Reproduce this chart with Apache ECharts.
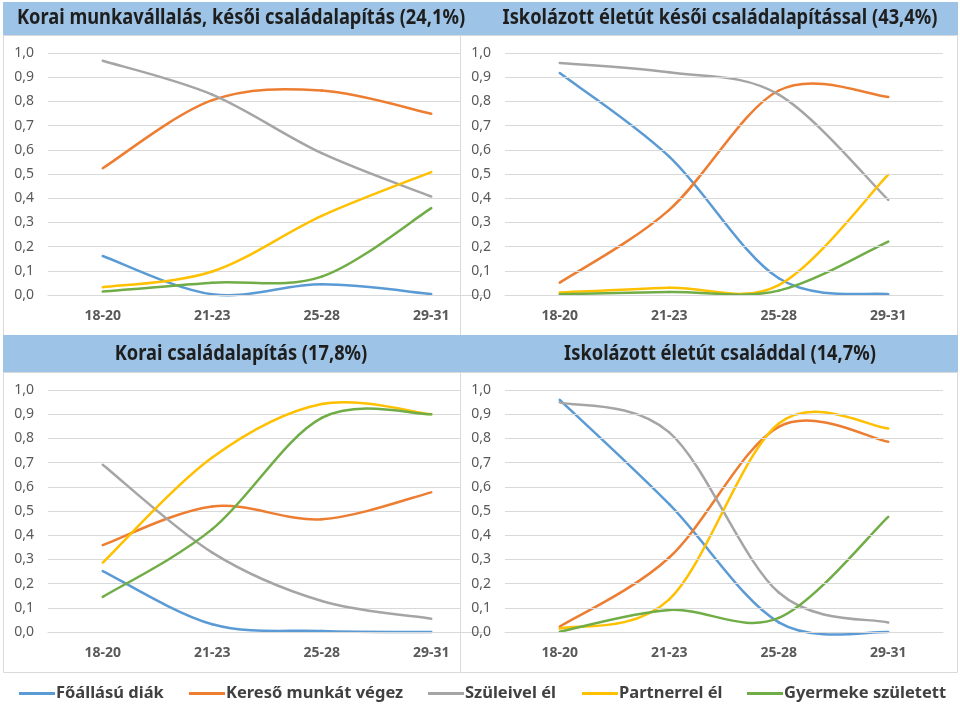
<!DOCTYPE html>
<html>
<head>
<meta charset="utf-8">
<script src="https://cdn.jsdelivr.net/npm/echarts@6/dist/echarts.min.js"></script>
<style>html,body{margin:0;padding:0;background:#fff}#c{width:960px;height:704px}</style>
</head>
<body>
<div id="c"></div>
<script>
const categories = ['18-20', '21-23', '25-28', '29-31'];
const seriesNames = ['Főállású diák', 'Kereső munkát végez', 'Szüleivel él', 'Partnerrel él', 'Gyermeke született'];
const colors = ['#5B9BD5', '#ED7D31', '#A5A5A5', '#FFC000', '#70AD47'];
const panelTitles = [
  'Korai munkavállalás, késői családalapítás (24,1%)',
  'Iskolázott életút késői családalapítással (43,4%)',
  'Korai családalapítás (17,8%)',
  'Iskolázott életút családdal (14,7%)'
];

// Panel 1: Korai munkavállalás, késői családalapítás
const p1Diak     = [0.161, 0.003, 0.044, 0.004];
const p1Kereso   = [0.524, 0.805, 0.845, 0.749];
const p1Szulei   = [0.968, 0.828, 0.586, 0.407];
const p1Partner  = [0.032, 0.097, 0.327, 0.508];
const p1Gyermek  = [0.014, 0.051, 0.076, 0.359];
// Panel 2: Iskolázott életút késői családalapítással
const p2Diak     = [0.917, 0.572, 0.069, 0.003];
const p2Kereso   = [0.051, 0.352, 0.845, 0.818];
const p2Szulei   = [0.959, 0.920, 0.828, 0.393];
const p2Partner  = [0.010, 0.030, 0.041, 0.497];
const p2Gyermek  = [0.003, 0.012, 0.018, 0.221];
// Panel 3: Korai családalapítás
const p3Diak     = [0.252, 0.032, 0.004, 0.000];
const p3Kereso   = [0.359, 0.519, 0.466, 0.577];
const p3Szulei   = [0.691, 0.328, 0.128, 0.055];
const p3Partner  = [0.287, 0.721, 0.942, 0.900];
const p3Gyermek  = [0.145, 0.425, 0.885, 0.900];
// Panel 4: Iskolázott életút családdal
const p4Diak     = [0.959, 0.528, 0.040, 0.000];
const p4Kereso   = [0.022, 0.308, 0.848, 0.786];
const p4Szulei   = [0.949, 0.825, 0.163, 0.039];
const p4Partner  = [0.014, 0.135, 0.862, 0.841];
const p4Gyermek  = [0.001, 0.091, 0.058, 0.476];

const panelData = [
  [p1Diak, p1Kereso, p1Szulei, p1Partner, p1Gyermek],
  [p2Diak, p2Kereso, p2Szulei, p2Partner, p2Gyermek],
  [p3Diak, p3Kereso, p3Szulei, p3Partner, p3Gyermek],
  [p4Diak, p4Kereso, p4Szulei, p4Partner, p4Gyermek]
];

const SANS = '"Noto Sans", "Open Sans", sans-serif';

const gridPos = [
  { left: 48, top: 53, width: 438, height: 242 },
  { left: 505, top: 53, width: 438, height: 242 },
  { left: 48, top: 390, width: 438, height: 242 },
  { left: 505, top: 390, width: 438, height: 242 }
];

const grids = gridPos.map(g => Object.assign({ containLabel: false }, g));
const xAxes = gridPos.map((g, i) => ({
  type: 'category', gridIndex: i, data: categories, boundaryGap: true,
  axisLine: { show: true, lineStyle: { color: '#D9D9D9', width: 1 } },
  axisTick: { show: false },
  axisLabel: { color: '#595959', fontFamily: SANS, fontWeight: 'bold', fontSize: 14, margin: 14 },
  z: 5
}));
const yAxes = gridPos.map((g, i) => ({
  type: 'value', gridIndex: i, min: 0, max: 1, interval: 0.1,
  axisLine: { show: false }, axisTick: { show: false },
  axisLabel: { color: '#595959', fontFamily: SANS, fontSize: 14, margin: 14,
    formatter: v => v.toFixed(1).replace('.', ',') },
  splitLine: { lineStyle: { color: '#D9D9D9', width: 1 } },
  z: (i % 2 === 1) ? 5 : 0
}));

// Excel-like smoothed line: cubic Bezier segments (Catmull-Rom, tension 1/6)
function makeRenderer(vals, color) {
  return function (params, api) {
    const i = params.dataIndex;
    const n = vals.length;
    if (i >= n - 1) return null;
    const P = k => { const kk = Math.max(0, Math.min(n - 1, k)); return api.coord([kk, vals[kk]]); };
    const p0 = P(i - 1), p1 = P(i), p2 = P(i + 1), p3 = P(i + 2);
    const t = 1 / 6;
    return {
      type: 'bezierCurve',
      shape: {
        x1: p1[0], y1: p1[1], x2: p2[0], y2: p2[1],
        cpx1: p1[0] + (p2[0] - p0[0]) * t, cpy1: p1[1] + (p2[1] - p0[1]) * t,
        cpx2: p2[0] - (p3[0] - p1[0]) * t, cpy2: p2[1] - (p3[1] - p1[1]) * t
      },
      style: { stroke: color, lineWidth: 2.5, fill: null, lineCap: 'round' },
      silent: true
    };
  };
}

const series = [];
panelData.forEach((arrs, p) => {
  arrs.forEach((vals, s) => {
    series.push({
      type: 'custom', name: seriesNames[s], xAxisIndex: p, yAxisIndex: p,
      data: vals.map((v, k) => [k, v]),
      encode: { x: 0, y: 1 },
      renderItem: makeRenderer(vals, colors[s]),
      itemStyle: { color: colors[s] },
      clip: false, z: 3, silent: true
    });
  });
});

const legendLefts = [19, 189, 428, 582, 747];
const legends = seriesNames.map((n, i) => ({
  data: [n], left: legendLefts[i], top: 685, itemWidth: 36, itemHeight: 3, itemGap: 0,
  icon: 'rect', padding: 0,
  textStyle: { color: '#404040', fontFamily: SANS, fontWeight: 'bold', fontSize: 16.5, padding: [0, 0, 0, -4] }
}));

const titleCenters = [[241, 18.5], [720, 18.5], [241, 354], [720, 354]];

const graphic = [
  { type: 'rect', shape: { x: 3.5, y: 35.5, width: 457, height: 300 }, style: { fill: '#fff', stroke: '#D9D9D9', lineWidth: 1 }, z: -10 },
  { type: 'rect', shape: { x: 460.5, y: 35.5, width: 497, height: 300 }, style: { fill: '#fff', stroke: '#D9D9D9', lineWidth: 1 }, z: -10 },
  { type: 'rect', shape: { x: 3.5, y: 372.5, width: 457, height: 300 }, style: { fill: '#fff', stroke: '#D9D9D9', lineWidth: 1 }, z: -10 },
  { type: 'rect', shape: { x: 460.5, y: 372.5, width: 497, height: 300 }, style: { fill: '#fff', stroke: '#D9D9D9', lineWidth: 1 }, z: -10 },
  { type: 'rect', shape: { x: 461, y: 40, width: 42, height: 290 }, style: { fill: '#fff' }, z: 1 },
  { type: 'rect', shape: { x: 461, y: 377, width: 42, height: 290 }, style: { fill: '#fff' }, z: 1 },
  { type: 'line', shape: { x1: 460.5, y1: 35, x2: 460.5, y2: 335 }, style: { stroke: '#D9D9D9', lineWidth: 1 }, z: 1 },
  { type: 'line', shape: { x1: 460.5, y1: 372, x2: 460.5, y2: 672 }, style: { stroke: '#D9D9D9', lineWidth: 1 }, z: 1 },
  { type: 'rect', shape: { x: 3, y: 2, width: 955, height: 33 }, style: { fill: '#9DC3E6' }, z: 1 },
  { type: 'rect', shape: { x: 3, y: 335, width: 955, height: 37 }, style: { fill: '#9DC3E6' }, z: 1 }
];
panelTitles.forEach((t, i) => {
  graphic.push({
    type: 'text', x: titleCenters[i][0], y: titleCenters[i][1], scaleX: 0.87, z: 2,
    style: { text: t, fill: '#1E1E1E', font: 'bold 21px ' + SANS,
      align: 'center', verticalAlign: 'middle', textAlign: 'center', textVerticalAlign: 'middle' }
  });
});

const chart = echarts.init(document.getElementById('c'));
chart.setOption({
  animation: false,
  backgroundColor: '#fff',
  grid: grids, xAxis: xAxes, yAxis: yAxes,
  legend: legends,
  graphic: graphic,
  series: series
});
</script>
</body>
</html>
